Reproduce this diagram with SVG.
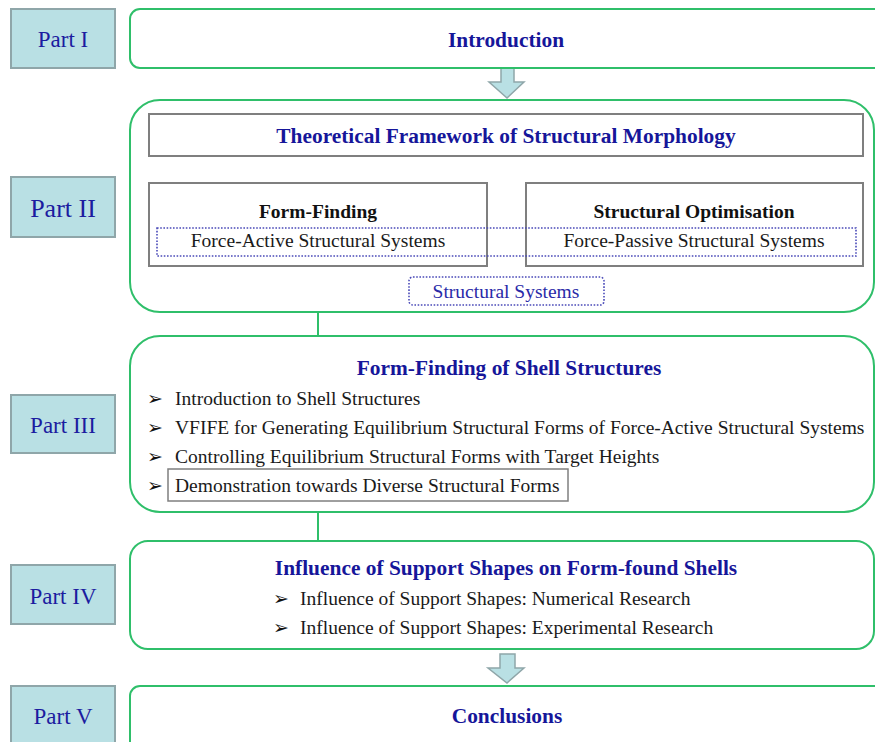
<svg xmlns="http://www.w3.org/2000/svg" width="875" height="742" viewBox="0 0 875 742">
<style>
.part rect{fill:#b9e0e4;stroke:#8fa6a9;stroke-width:2}
.part text{font-family:"Liberation Serif",serif;font-size:23px;fill:#1c1ca0;text-anchor:middle}
.sec{fill:#fff;stroke:#2fbf6a;stroke-width:2}
.gbox{fill:#fff;stroke:#7f7f7f;stroke-width:2}
.title{font-family:"Liberation Serif",serif;font-weight:bold;font-size:21.4px;fill:#16169a}
.sub{font-family:"Liberation Serif",serif;font-weight:bold;font-size:19.5px;fill:#111}
.body{font-family:"Liberation Serif",serif;font-size:19.5px;fill:#1a1a1a}
.dot{fill:none;stroke:#4a4ab8;stroke-width:1.6;stroke-dasharray:1.6 1.6}
.arrow{fill:#b9e0e4;stroke:#8fa6a9;stroke-width:1.5}
.bul{font-family:"DejaVu Sans",sans-serif;font-size:19px;fill:#111}
</style>
<rect width="875" height="742" fill="#fff"/>

<g id="part1" class="part"><rect x="11" y="9" width="104" height="59"/><text x="63" y="47">Part I</text></g>
<g id="part2" class="part"><rect x="11" y="177" width="104" height="60"/><text x="63" y="217" style="font-size:26px">Part II</text></g>
<g id="part3" class="part"><rect x="11" y="395" width="104" height="58"/><text x="63" y="433">Part III</text></g>
<g id="part4" class="part"><rect x="11" y="565" width="104" height="59"/><text x="63" y="604">Part IV</text></g>
<g id="part5" class="part"><rect x="11" y="686" width="104" height="60"/><text x="63" y="724">Part V</text></g>

<g id="connectors">
<path d="M506 156 V169 M318 183 V169 H694 V183" fill="none" stroke="#7f7f7f" stroke-width="2"/>
<path d="M318 266 V336 M318 512 V541" fill="none" stroke="#2fbf6a" stroke-width="2"/>
<path d="M506 256 V277" class="dot"/>
<path class="arrow" d="M501 68 H514 V82 H524 L507 98 L489 82 H501 Z"/>
<path class="arrow" d="M500 654 H515 V668 H524 L507 683 L488 668 H500 Z"/>
</g>

<g id="intro"><rect class="sec" x="130" y="9" width="755" height="59" rx="10"/><text class="title" x="506" y="47" text-anchor="middle">Introduction</text></g>

<g id="sec2"><rect class="sec" x="130" y="100" width="744" height="212" rx="30"/></g>
<g id="framework"><rect class="gbox" x="149" y="114" width="714" height="42"/><text class="title" x="506" y="143" text-anchor="middle">Theoretical Framework of Structural Morphology</text></g>
<g id="formfinding"><rect class="gbox" x="149" y="183" width="338" height="83"/><text class="sub" x="318" y="218" text-anchor="middle">Form-Finding</text><text class="body" x="318" y="247" text-anchor="middle">Force-Active Structural Systems</text></g>
<g id="optimisation"><rect class="gbox" x="526" y="183" width="337" height="83"/><text class="sub" x="694" y="218" text-anchor="middle">Structural Optimisation</text><text class="body" x="694" y="247" text-anchor="middle">Force-Passive Structural Systems</text></g>
<g id="systems-band"><rect class="dot" x="157" y="228" width="699" height="28"/></g>
<g id="structural-systems"><rect class="dot" x="409" y="277" width="195" height="28" rx="4"/><text class="body" x="506" y="298" text-anchor="middle" style="fill:#2a2aa8">Structural Systems</text></g>

<g id="sec3"><rect class="sec" x="130" y="336" width="744" height="176" rx="30"/>
<text class="title" x="509" y="375" text-anchor="middle">Form-Finding of Shell Structures</text>
<rect class="gbox" x="168" y="469" width="400" height="32" style="stroke-width:1.5"/>
<text class="bul" x="147" y="405">➢</text><text class="body" x="175" y="405">Introduction to Shell Structures</text>
<text class="bul" x="147" y="434">➢</text><text class="body" x="175" y="434">VFIFE for Generating Equilibrium Structural Forms of Force-Active Structural Systems</text>
<text class="bul" x="147" y="463">➢</text><text class="body" x="175" y="463">Controlling Equilibrium Structural Forms with Target Heights</text>
<text class="bul" x="147" y="492">➢</text><text class="body" x="175" y="492">Demonstration towards Diverse Structural Forms</text>
</g>

<g id="sec4"><rect class="sec" x="130" y="541" width="744" height="108" rx="18"/>
<text class="title" x="506" y="575" text-anchor="middle">Influence of Support Shapes on Form-found Shells</text>
<text class="bul" x="273" y="605">➢</text><text class="body" x="300" y="605">Influence of Support Shapes: Numerical Research</text>
<text class="bul" x="273" y="634">➢</text><text class="body" x="300" y="634">Influence of Support Shapes: Experimental Research</text>
</g>

<g id="conclusions"><rect class="sec" x="130" y="686" width="755" height="70" rx="10"/><text class="title" x="507" y="723" text-anchor="middle">Conclusions</text></g>
</svg>
